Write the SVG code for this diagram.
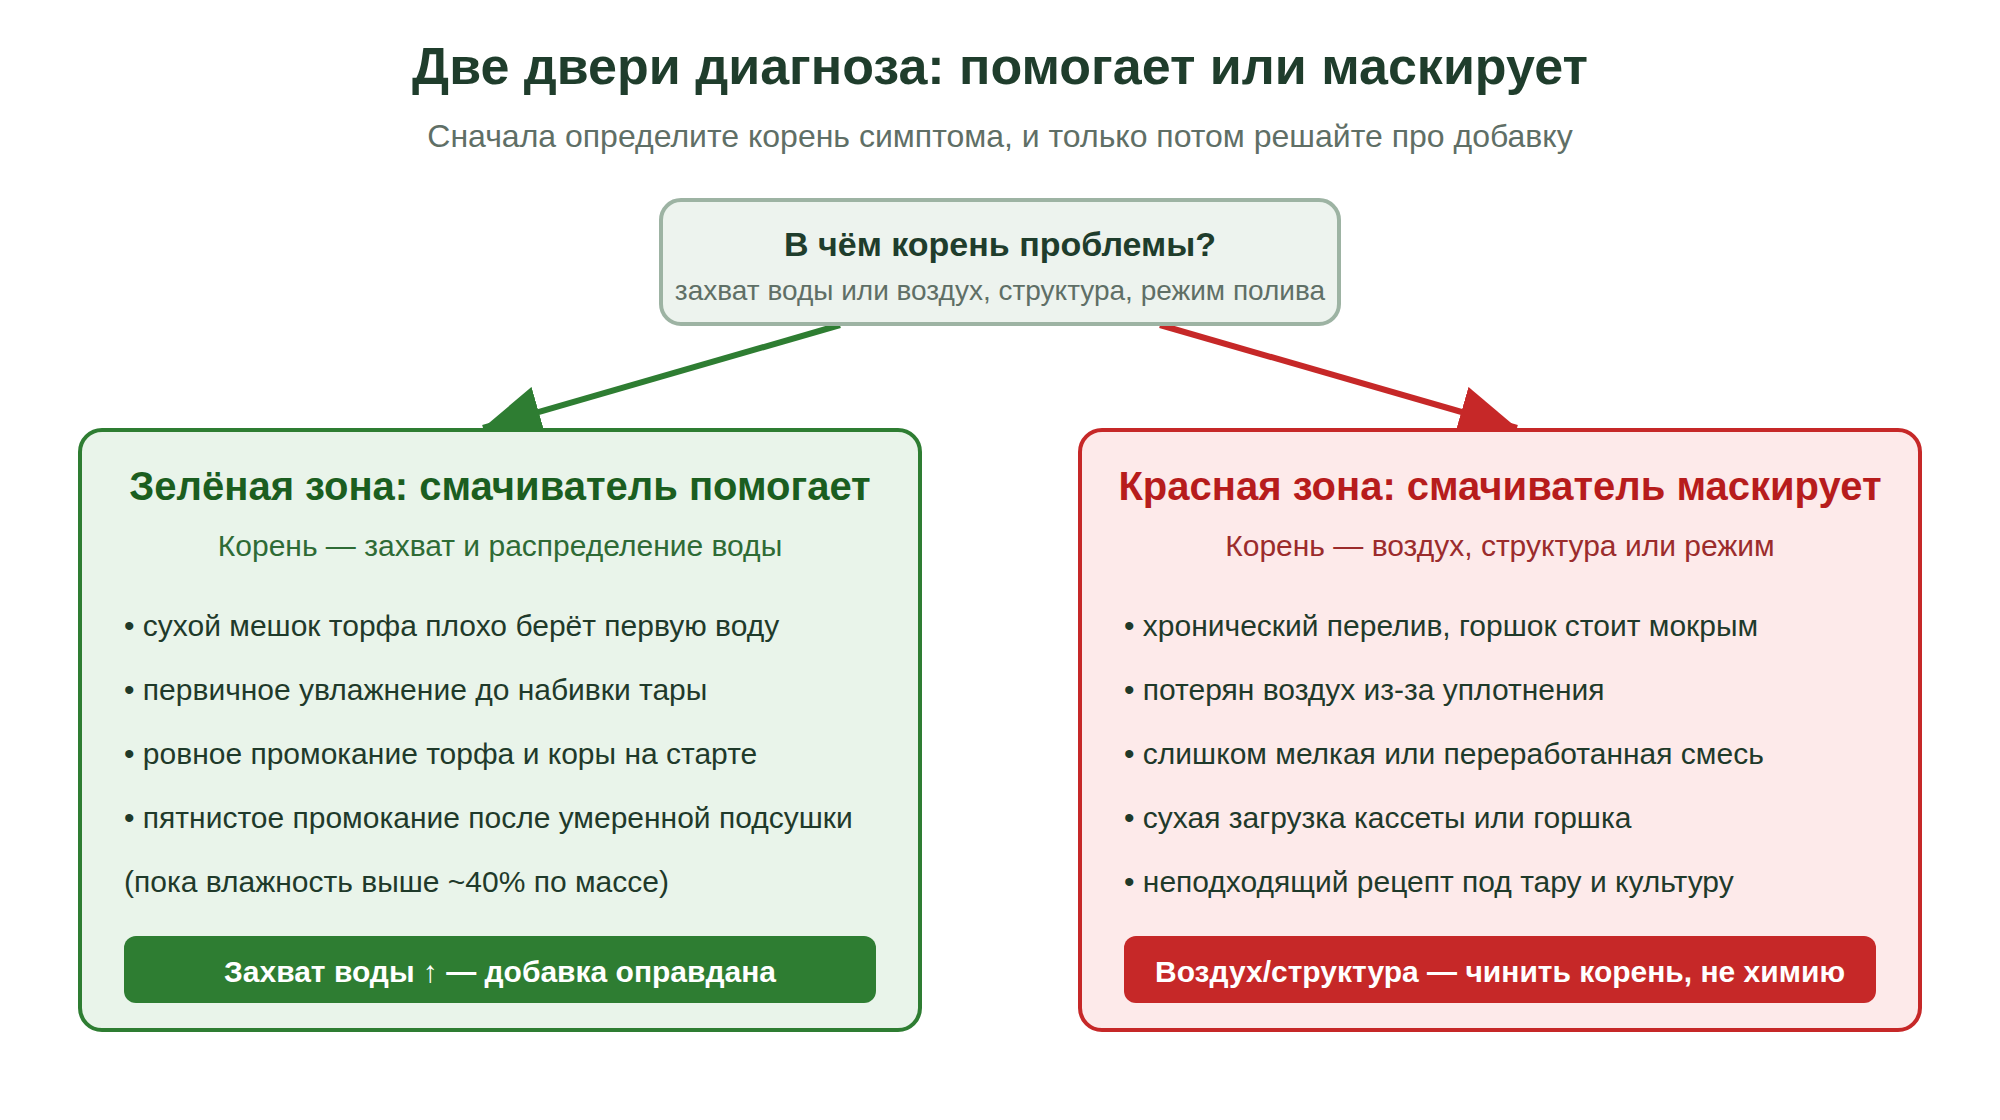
<svg xmlns="http://www.w3.org/2000/svg" width="2000" height="1120" viewBox="0 0 2000 1120">
<style>
text{font-family:"Liberation Sans",Arial,sans-serif}
.title{font-size:52px;font-weight:bold;fill:#1f3d2c}
.sub{font-size:32px;fill:#5f6f66}
.qt{font-size:34px;font-weight:bold;fill:#1f3d2c}
.qs{font-size:28px;fill:#5f6f66}
.bl{font-size:30px;fill:#1f3a2a}
.gt{font-size:40px;font-weight:bold;fill:#1b5e20}
.gs{font-size:30px;fill:#2e6b35}
.rt{font-size:40px;font-weight:bold;fill:#b71c1c}
.rs{font-size:30px;fill:#9b2c2c}
.btn{font-size:30px;font-weight:bold;fill:#ffffff}
</style>
<defs>
<marker id="ag" markerUnits="userSpaceOnUse" markerWidth="60" markerHeight="52" refX="58" refY="26" orient="auto" viewBox="0 0 60 52"><path d="M0,0 L58,26 L0,52 z" fill="#2e7d32"/></marker>
<marker id="ar" markerUnits="userSpaceOnUse" markerWidth="60" markerHeight="52" refX="58" refY="26" orient="auto" viewBox="0 0 60 52"><path d="M0,0 L58,26 L0,52 z" fill="#c62828"/></marker>
</defs>
<rect width="2000" height="1120" fill="#ffffff"/>
<text class="title" x="1000" y="84" text-anchor="middle">Две двери диагноза: помогает или маскирует</text>
<text class="sub" x="1000" y="147" text-anchor="middle">Сначала определите корень симптома, и только потом решайте про добавку</text>
<g id="connectors">
<line x1="840" y1="325" x2="483" y2="428" stroke="#2e7d32" stroke-width="6" marker-end="url(#ag)"/>
<line x1="1160" y1="325" x2="1517" y2="428" stroke="#c62828" stroke-width="6" marker-end="url(#ar)"/>
</g>
<g id="question">
<rect x="661" y="200" width="678" height="124" rx="20" fill="#edf3ee" stroke="#9db3a3" stroke-width="4"/>
<text class="qt" x="1000" y="256" text-anchor="middle">В чём корень проблемы?</text>
<text class="qs" x="1000" y="300" text-anchor="middle">захват воды или воздух, структура, режим полива</text>
</g>
<g id="green-zone">
<rect x="80" y="430" width="840" height="600" rx="22" fill="#e9f4ea" stroke="#2e7d32" stroke-width="4"/>
<text class="gt" x="500" y="500" text-anchor="middle">Зелёная зона: смачиватель помогает</text>
<text class="gs" x="500" y="556" text-anchor="middle">Корень — захват и распределение воды</text>
<text class="bl" x="124" y="636">• сухой мешок торфа плохо берёт первую воду</text>
<text class="bl" x="124" y="700">• первичное увлажнение до набивки тары</text>
<text class="bl" x="124" y="764">• ровное промокание торфа и коры на старте</text>
<text class="bl" x="124" y="828">• пятнистое промокание после умеренной подсушки</text>
<text class="bl" x="124" y="892">(пока влажность выше ~40% по массе)</text>
<rect x="124" y="936" width="752" height="67" rx="12" fill="#2e7d32"/>
<text class="btn" x="500" y="982" text-anchor="middle">Захват воды ↑ — добавка оправдана</text>
</g>
<g id="red-zone">
<rect x="1080" y="430" width="840" height="600" rx="22" fill="#fdeaea" stroke="#c62828" stroke-width="4"/>
<text class="rt" x="1500" y="500" text-anchor="middle">Красная зона: смачиватель маскирует</text>
<text class="rs" x="1500" y="556" text-anchor="middle">Корень — воздух, структура или режим</text>
<text class="bl" x="1124" y="636">• хронический перелив, горшок стоит мокрым</text>
<text class="bl" x="1124" y="700">• потерян воздух из-за уплотнения</text>
<text class="bl" x="1124" y="764">• слишком мелкая или переработанная смесь</text>
<text class="bl" x="1124" y="828">• сухая загрузка кассеты или горшка</text>
<text class="bl" x="1124" y="892">• неподходящий рецепт под тару и культуру</text>
<rect x="1124" y="936" width="752" height="67" rx="12" fill="#c62828"/>
<text class="btn" x="1500" y="982" text-anchor="middle">Воздух/структура — чинить корень, не химию</text>
</g>
</svg>
